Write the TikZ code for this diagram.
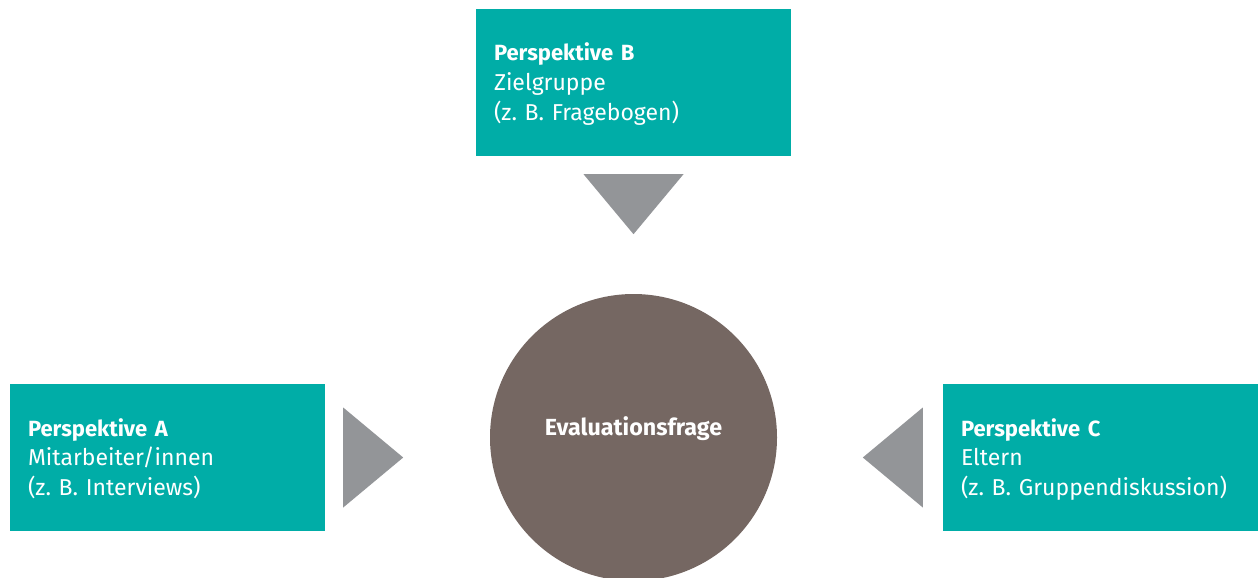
\documentclass[tikz,border=0pt]{standalone}
\usepackage{fontspec}
\setmainfont{Fira Sans}
\usepackage[HTML]{xcolor}
\usetikzlibrary{positioning, calc}

\definecolor{perspteal}{HTML}{00ADA7}
\definecolor{triggray}{HTML}{939598}
\definecolor{circbrown}{HTML}{756762}

\newcommand{\persphead}[1]{{\fontsize{22}{29.5}\selectfont\bfseries #1}}

\tikzset{
  perspbox/.style={fill=perspteal, text=white, align=left, inner sep=0pt,
    minimum width=315pt, minimum height=147pt, text width=279pt,
    text height=20pt, text depth=63pt,
    font=\fontsize{23}{29.5}\selectfont},
  pointer/.style={fill=triggray},
  frage/.style={circle, fill=circbrown, text=white, inner sep=0pt,
    minimum size=287pt, text height=12pt, text depth=15.6pt,
    font=\fontsize{23.3}{28}\selectfont\bfseries}
}

\begin{document}
\begin{tikzpicture}[x=1pt,y=-1pt]
\useasboundingbox (0,0) rectangle (1258,578);

\node[perspbox] (boxB) at (633.5,82.5) {\persphead{Perspektive B}\\Zielgruppe\\(z.~B. Fragebogen)};
\node[perspbox] (boxA) at (167.5,457.5) {\persphead{Perspektive A}\\Mitarbeiter/innen\\(z.~B. Interviews)};
\node[perspbox] (boxC) at (1100.5,457.5) {\persphead{Perspektive C}\\Eltern\\(z.~B. Gruppendiskussion)};

\node[frage] (frage) at (633.5,437.5) {Evaluationsfrage};

% pointers towards the question
\fill[pointer] ($(boxB.south)+(-50,18)$) -- ($(boxB.south)+(50,18)$) -- ($(boxB.south)+(0,78)$) -- cycle;
\fill[pointer] ($(boxA.east)+(18,-50)$) -- ($(boxA.east)+(18,50)$) -- ($(boxA.east)+(78,0)$) -- cycle;
\fill[pointer] ($(boxC.west)+(-20,-50)$) -- ($(boxC.west)+(-20,50)$) -- ($(boxC.west)+(-80,0)$) -- cycle;
\end{tikzpicture}
\end{document}
